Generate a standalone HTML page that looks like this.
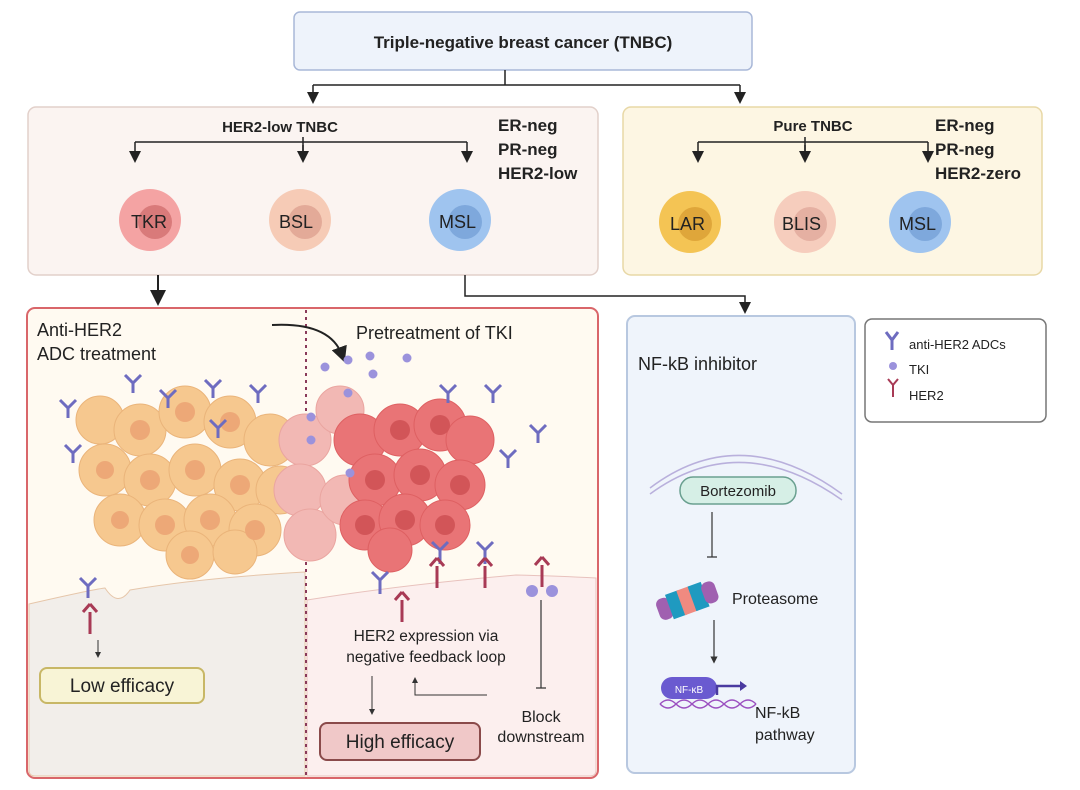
<!DOCTYPE html>
<html><head><meta charset="utf-8"><style>
body{margin:0;width:1080px;height:790px;background:#fff;overflow:hidden}
svg{display:block}
text{font-family:"Liberation Sans",sans-serif;fill:#222}
</style></head><body>
<svg width="1080" height="790" viewBox="0 0 1080 790">
<defs>
<marker id="ah" markerWidth="8" markerHeight="8" refX="4" refY="4" orient="auto"><path d="M0,0 L8,4 L0,8 z" fill="#222"/></marker>
<marker id="as" markerWidth="6" markerHeight="6" refX="3" refY="3" orient="auto"><path d="M0,0 L6,3 L0,6 z" fill="#333"/></marker>
</defs>
<rect x="294" y="12" width="458" height="58" rx="6" fill="#eef3fb" stroke="#a9b8d8" stroke-width="1.5"/>
<text x="523" y="48" font-size="17" font-weight="bold" text-anchor="middle">Triple-negative breast cancer (TNBC)</text>
<path d="M505,70 V85 M313,85 H740" stroke="#222" stroke-width="1.5" fill="none"/>
<path d="M313,85 V98" stroke="#222" stroke-width="1.5" marker-end="url(#ah)"/>
<path d="M740,85 V98" stroke="#222" stroke-width="1.5" marker-end="url(#ah)"/>
<rect x="28" y="107" width="570" height="168" rx="8" fill="#fbf4f1" stroke="#e2d0ca" stroke-width="1.5"/>
<text x="280" y="132" font-size="15" font-weight="bold" text-anchor="middle">HER2-low TNBC</text>
<text x="498" y="131" font-size="17" font-weight="bold">ER-neg</text>
<text x="498" y="155" font-size="17" font-weight="bold">PR-neg</text>
<text x="498" y="179" font-size="17" font-weight="bold">HER2-low</text>
<path d="M135,142 H467 M303,137 V152" stroke="#222" stroke-width="1.5" fill="none"/>
<path d="M135,142 V157" stroke="#222" stroke-width="1.5" marker-end="url(#ah)"/>
<path d="M303,145 V157" stroke="#222" stroke-width="1.5" marker-end="url(#ah)"/>
<path d="M467,142 V157" stroke="#222" stroke-width="1.5" marker-end="url(#ah)"/>
<circle cx="150" cy="220" r="31" fill="#f4a3a3"/><circle cx="155" cy="222" r="17" fill="#d97a7a"/>
<circle cx="300" cy="220" r="31" fill="#f6cbb6"/><circle cx="305" cy="222" r="17" fill="#e3aa98"/>
<circle cx="460" cy="220" r="31" fill="#9fc4ef"/><circle cx="465" cy="222" r="17" fill="#7ea8dc"/>
<text x="131" y="228" font-size="18">TKR</text>
<text x="279" y="228" font-size="18">BSL</text>
<text x="439" y="228" font-size="18">MSL</text>
<rect x="623" y="107" width="419" height="168" rx="8" fill="#fdf6e3" stroke="#e8d8a6" stroke-width="1.5"/>
<text x="813" y="131" font-size="15" font-weight="bold" text-anchor="middle">Pure TNBC</text>
<text x="935" y="131" font-size="17" font-weight="bold">ER-neg</text>
<text x="935" y="155" font-size="17" font-weight="bold">PR-neg</text>
<text x="935" y="179" font-size="17" font-weight="bold">HER2-zero</text>
<path d="M698,142 H928 M805,137 V152" stroke="#222" stroke-width="1.5" fill="none"/>
<path d="M698,142 V157" stroke="#222" stroke-width="1.5" marker-end="url(#ah)"/>
<path d="M805,145 V157" stroke="#222" stroke-width="1.5" marker-end="url(#ah)"/>
<path d="M928,142 V157" stroke="#222" stroke-width="1.5" marker-end="url(#ah)"/>
<circle cx="690" cy="222" r="31" fill="#f4c454"/><circle cx="695" cy="224" r="17" fill="#dfa63a"/>
<circle cx="805" cy="222" r="31" fill="#f6cdbd"/><circle cx="810" cy="224" r="17" fill="#e5b0a2"/>
<circle cx="920" cy="222" r="31" fill="#9fc4ef"/><circle cx="925" cy="224" r="17" fill="#7ea8dc"/>
<text x="670" y="230" font-size="18">LAR</text>
<text x="782" y="230" font-size="18">BLIS</text>
<text x="899" y="230" font-size="18">MSL</text>
<path d="M158,275 V298" stroke="#222" stroke-width="2" marker-end="url(#ah)"/>
<path d="M465,275 V296 H745 V308" stroke="#222" stroke-width="1.5" fill="none" marker-end="url(#ah)"/>
<rect x="27" y="308" width="571" height="470" rx="8" fill="#fffaf1" stroke="#d9666a" stroke-width="2"/>
<path d="M29,604 Q90,590 105,588 Q118,608 130,590 Q200,578 305,572 V776 H35 Q29,776 29,770 Z" fill="#f2eeea" stroke="#e6c6aa" stroke-width="1"/>
<path d="M307,600 Q400,585 516,575 Q560,576 596,578 V770 Q596,776 590,776 H307 Z" fill="#fcefee" stroke="#e8c2bd" stroke-width="1"/>
<line x1="306" y1="310" x2="306" y2="776" stroke="#8a3a5a" stroke-width="2" stroke-dasharray="3,4"/>
<text x="37" y="336" font-size="18">Anti-HER2</text>
<text x="37" y="360" font-size="18">ADC treatment</text>
<text x="356" y="339" font-size="18">Pretreatment of TKI</text>
<path d="M272,325 Q330,322 342,355" stroke="#222" stroke-width="2" fill="none" marker-end="url(#ah)"/>
<g fill="#f6c88f" stroke="#eab47a">
<circle cx="100" cy="420" r="24"/><circle cx="140" cy="430" r="26"/><circle cx="185" cy="412" r="26"/><circle cx="230" cy="422" r="26"/><circle cx="270" cy="440" r="26"/>
<circle cx="105" cy="470" r="26"/><circle cx="150" cy="480" r="26"/><circle cx="195" cy="470" r="26"/><circle cx="240" cy="485" r="26"/><circle cx="280" cy="490" r="24"/>
<circle cx="120" cy="520" r="26"/><circle cx="165" cy="525" r="26"/><circle cx="210" cy="520" r="26"/><circle cx="255" cy="530" r="26"/>
<circle cx="190" cy="555" r="24"/><circle cx="235" cy="552" r="22"/>
</g>
<g fill="#eda877">
<circle cx="140" cy="430" r="10"/><circle cx="185" cy="412" r="10"/><circle cx="230" cy="422" r="10"/><circle cx="150" cy="480" r="10"/><circle cx="195" cy="470" r="10"/><circle cx="240" cy="485" r="10"/><circle cx="165" cy="525" r="10"/><circle cx="210" cy="520" r="10"/><circle cx="255" cy="530" r="10"/><circle cx="105" cy="470" r="9"/><circle cx="120" cy="520" r="9"/><circle cx="190" cy="555" r="9"/>
</g>
<g fill="#f2b8b4" stroke="#eaa5a0">
<circle cx="305" cy="440" r="26"/><circle cx="300" cy="490" r="26"/><circle cx="310" cy="535" r="26"/><circle cx="340" cy="410" r="24"/><circle cx="345" cy="500" r="25"/>
</g>
<g fill="#e97476" stroke="#de6062">
<circle cx="360" cy="440" r="26"/><circle cx="400" cy="430" r="26"/><circle cx="440" cy="425" r="26"/><circle cx="470" cy="440" r="24"/>
<circle cx="375" cy="480" r="26"/><circle cx="420" cy="475" r="26"/><circle cx="460" cy="485" r="25"/>
<circle cx="365" cy="525" r="25"/><circle cx="405" cy="520" r="26"/><circle cx="445" cy="525" r="25"/><circle cx="390" cy="550" r="22"/>
</g>
<g fill="#d25558">
<circle cx="400" cy="430" r="10"/><circle cx="440" cy="425" r="10"/><circle cx="375" cy="480" r="10"/><circle cx="420" cy="475" r="10"/><circle cx="460" cy="485" r="10"/><circle cx="405" cy="520" r="10"/><circle cx="445" cy="525" r="10"/><circle cx="365" cy="525" r="10"/>
</g>
<g fill="#9b92dc">
<circle cx="325" cy="367" r="4.5"/><circle cx="348" cy="360" r="4.5"/><circle cx="370" cy="356" r="4.5"/><circle cx="407" cy="358" r="4.5"/><circle cx="373" cy="374" r="4.5"/><circle cx="311" cy="417" r="4.5"/><circle cx="311" cy="440" r="4.5"/><circle cx="350" cy="473" r="4.5"/><circle cx="348" cy="393" r="4.5"/>
</g>
<g stroke="#6e6cc0" stroke-width="3" fill="none">
<path d="M60,400 l8,8 l8,-8 M68,408 v10"/><path d="M125,375 l8,8 l8,-8 M133,383 v10"/><path d="M160,390 l8,8 l8,-8 M168,398 v10"/><path d="M205,380 l8,8 l8,-8 M213,388 v10"/><path d="M250,385 l8,8 l8,-8 M258,393 v10"/><path d="M65,445 l8,8 l8,-8 M73,453 v10"/><path d="M210,420 l8,8 l8,-8 M218,428 v10"/>
<path d="M440,385 l8,8 l8,-8 M448,393 v10"/><path d="M485,385 l8,8 l8,-8 M493,393 v10"/><path d="M530,425 l8,8 l8,-8 M538,433 v10"/><path d="M500,450 l8,8 l8,-8 M508,458 v10"/>
<path d="M372,572 l8,8 l8,-8 M380,580 v14"/><path d="M432,542 l8,8 l8,-8 M440,550 v14"/><path d="M477,542 l8,8 l8,-8 M485,550 v14"/><path d="M80,578 l8,8 l8,-8 M88,586 v12"/>
</g>
<g stroke="#a83a55" stroke-width="3" fill="none">
<path d="M83,612 l7,-8 M97,612 l-7,-8 M90,612 v22"/><path d="M395,600 l7,-8 M409,600 l-7,-8 M402,600 v22"/><path d="M430,566 l7,-8 M444,566 l-7,-8 M437,566 v22"/><path d="M478,566 l7,-8 M492,566 l-7,-8 M485,566 v22"/><path d="M535,565 l7,-8 M549,565 l-7,-8 M542,565 v22"/>
</g>
<circle cx="532" cy="591" r="6" fill="#9b92dc"/><circle cx="552" cy="591" r="6" fill="#9b92dc"/>
<path d="M98,640 V655" stroke="#333" stroke-width="1" marker-end="url(#as)"/>
<rect x="40" y="668" width="164" height="35" rx="7" fill="#f8f4d6" stroke="#c8b766" stroke-width="2"/>
<text x="122" y="692" font-size="19" text-anchor="middle">Low efficacy</text>
<text x="426" y="641" font-size="15.5" text-anchor="middle">HER2 expression via</text>
<text x="426" y="662" font-size="15.5" text-anchor="middle">negative feedback loop</text>
<path d="M372,676 V712" stroke="#333" stroke-width="1" marker-end="url(#as)"/>
<path d="M487,695 H415 V680" stroke="#333" stroke-width="1" fill="none" marker-end="url(#as)"/>
<path d="M541,600 V688 M536,688 H546" stroke="#333" stroke-width="1.2" fill="none"/>
<rect x="320" y="723" width="160" height="37" rx="7" fill="#f0c8c8" stroke="#8a4a4a" stroke-width="2"/>
<text x="400" y="748" font-size="19" text-anchor="middle">High efficacy</text>
<text x="541" y="722" font-size="16" text-anchor="middle">Block</text>
<text x="541" y="742" font-size="16" text-anchor="middle">downstream</text>
<rect x="627" y="316" width="228" height="457" rx="8" fill="#eff4fb" stroke="#b8c8e0" stroke-width="2"/>
<text x="638" y="370" font-size="18">NF-kB inhibitor</text>
<path d="M650,488 Q740,420 842,494" stroke="#b9b0dc" stroke-width="1.5" fill="none"/>
<path d="M650,494 Q740,428 842,500" stroke="#b9b0dc" stroke-width="1.5" fill="none"/>
<rect x="680" y="477" width="116" height="27" rx="13" fill="#d6efe6" stroke="#6aa090" stroke-width="1.5"/>
<text x="738" y="496" font-size="15" text-anchor="middle">Bortezomib</text>
<path d="M712,512 V557 M707,557 H717" stroke="#333" stroke-width="1.2" fill="none"/>
<g transform="rotate(-20 686 600)">
<rect x="656" y="590" width="14" height="22" rx="6" fill="#a060b0"/><rect x="668" y="588" width="14" height="26" fill="#1f9ac0"/><rect x="680" y="588" width="14" height="26" fill="#f08a80"/><rect x="692" y="588" width="14" height="26" fill="#1f9ac0"/><rect x="704" y="590" width="14" height="22" rx="6" fill="#a060b0"/>
</g>
<text x="732" y="604" font-size="16">Proteasome</text>
<path d="M714,620 V660" stroke="#333" stroke-width="1.2" marker-end="url(#as)"/>
<rect x="661" y="677" width="56" height="22" rx="11" fill="#6a5ad0"/>
<text x="689" y="693" font-size="10" text-anchor="middle" style="fill:#fff">NF-κB</text>
<path d="M717,695 V686 H740" stroke="#4a3aa0" stroke-width="2.5" fill="none"/><path d="M740,681 L747,686 L740,691 z" fill="#4a3aa0"/>
<path d="M660,704 q8,-8 16,0 t16,0 t16,0 t16,0 t16,0 t16,0" stroke="#9b50c0" stroke-width="1.5" fill="none"/>
<path d="M660,704 q8,8 16,0 t16,0 t16,0 t16,0 t16,0 t16,0" stroke="#9b50c0" stroke-width="1.5" fill="none"/>
<text x="755" y="718" font-size="16">NF-kB</text>
<text x="755" y="740" font-size="16">pathway</text>
<rect x="865" y="319" width="181" height="103" rx="7" fill="#fff" stroke="#777" stroke-width="1.5"/>
<path d="M886,332 l6,8 l6,-8 M892,340 v10" stroke="#6e6cc0" stroke-width="3" fill="none"/>
<text x="909" y="349" font-size="13">anti-HER2 ADCs</text>
<circle cx="893" cy="366" r="4" fill="#9b92dc"/>
<text x="909" y="374" font-size="13">TKI</text>
<path d="M888,379 l5,6 l5,-6 M893,385 v12" stroke="#a83a55" stroke-width="2" fill="none"/>
<text x="909" y="400" font-size="13">HER2</text>
</svg>
</body></html>
